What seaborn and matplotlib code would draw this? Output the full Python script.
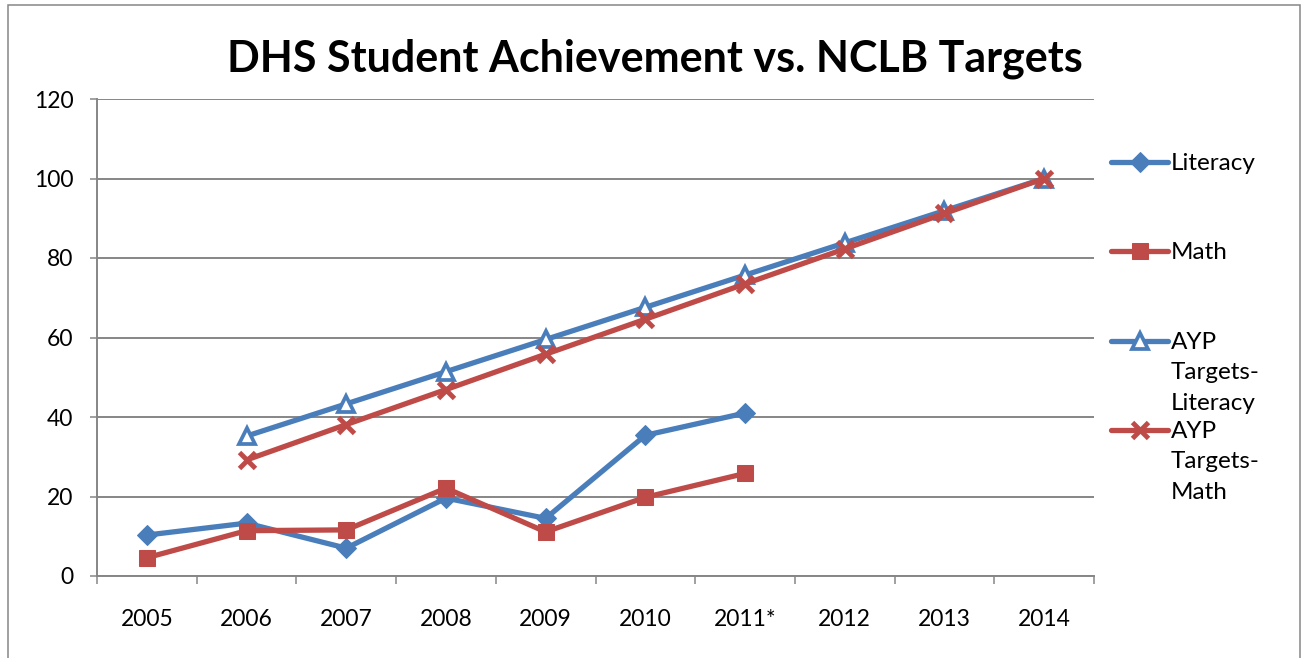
import numpy as np
import pandas as pd
import matplotlib
matplotlib.use("Agg")
import matplotlib.pyplot as plt
import seaborn as sns
from matplotlib.patches import Rectangle
from matplotlib.ticker import FixedLocator

# Chart data
years = ["2005", "2006", "2007", "2008", "2009", "2010", "2011*", "2012", "2013", "2014"]
literacy = [10.3, 13.3, 7.0, 19.6, 14.5, 35.4, 41.0, None, None, None]
math = [4.6, 11.4, 11.6, 22.1, 11.1, 19.8, 25.8, None, None, None]
ayp_literacy = [None, 35.2, 43.3, 51.4, 59.5, 67.6, 75.7, 83.8, 91.9, 100.0]
ayp_math = [None, 29.2, 38.1, 46.9, 55.8, 64.6, 73.5, 82.3, 91.2, 100.0]

series_names = ["Literacy", "Math", "AYP\nTargets-\nLiteracy", "AYP\nTargets-\nMath"]

df = pd.DataFrame({
    "pos": np.arange(len(years)),
    "Literacy": literacy,
    "Math": math,
    "AYP Literacy": ayp_literacy,
    "AYP Math": ayp_math,
}).astype(float)

blue = "#4A7EBB"
red = "#BE4B48"
grid_gray = "#868686"

sns.set_style("white")
plt.rcParams["font.family"] = ["Lato", "DejaVu Sans"]
plt.rcParams["text.color"] = "black"
plt.rcParams["xtick.labelcolor"] = "black"
plt.rcParams["ytick.labelcolor"] = "black"

fig = plt.figure(figsize=(13.02, 6.58), dpi=100)
ax = fig.add_axes([97 / 1302, 82 / 658, 997 / 1302, 477 / 658])

styles = [
    ("Literacy", dict(color=blue, marker="D", markersize=10.5, markeredgecolor=blue)),
    ("Math", dict(color=red, marker="s", markersize=11.5, markeredgecolor=red)),
    ("AYP Literacy", dict(color=blue, marker="^", markersize=11.5, markerfacecolor="white",
                          markeredgecolor=blue, markeredgewidth=2.7)),
    ("AYP Math", dict(color=red, marker="x", markersize=11.5, markeredgecolor=red,
                      markeredgewidth=3.5)),
]

handles = []
for col, kw in styles:
    sns.lineplot(data=df, x="pos", y=col, ax=ax, lw=3.8, legend=False, **kw)
    handles.append(ax.get_lines()[-1])

# axes styling
ax.set_xlim(-0.5, len(years) - 0.5)
ax.set_ylim(0, 120)
ax.set_yticks(range(0, 121, 20))
ax.set_xticks(df["pos"])
ax.set_xticklabels(years)
ax.xaxis.set_minor_locator(FixedLocator(np.arange(-0.5, len(years), 1.0)))
ax.set_xlabel("")
ax.set_ylabel("")
ax.yaxis.grid(True, color=grid_gray, lw=1.4)
ax.xaxis.grid(False)
for s in ["top", "right"]:
    ax.spines[s].set_visible(False)
for s in ["left", "bottom"]:
    ax.spines[s].set_color(grid_gray)
    ax.spines[s].set_linewidth(1.4)
ax.tick_params(axis="y", length=5, width=1.1, color=grid_gray, labelsize=16.5, pad=12, left=True)
ax.tick_params(axis="x", which="major", length=0, labelsize=16.5, pad=24)
ax.tick_params(axis="x", which="minor", length=6, width=1.1, color=grid_gray, bottom=True)
ax.set_axisbelow(True)

# title
fig.text(655 / 1302, 1 - 59 / 658, "DHS Student Achievement vs. NCLB Targets",
         ha="center", va="center", fontsize=31, fontweight="bold")

# legend: one entry per slot, like the Excel layout
slot_tops = [153, 242, 332, 421]
for h, name, top in zip(handles, series_names, slot_tops):
    leg = fig.legend([h], [name], loc="upper left", bbox_to_anchor=(1111 / 1302, 1 - top / 658),
                     frameon=False, fontsize=17.5, handlelength=2.35, handletextpad=0.12,
                     borderpad=0, borderaxespad=0)
    for t in leg.get_texts():
        t.set_linespacing(1.55)
    for column in leg._legend_handle_box.get_children():
        for item in column.get_children():
            item.align = "top"

# chart area border
fig.add_artist(Rectangle((8 / 1302, -0.02), 1292 / 1302, 1.02 - 5 / 658, transform=fig.transFigure,
                         fill=False, edgecolor=grid_gray, lw=1.1, clip_on=False))

fig.savefig("out.png", dpi=100)
